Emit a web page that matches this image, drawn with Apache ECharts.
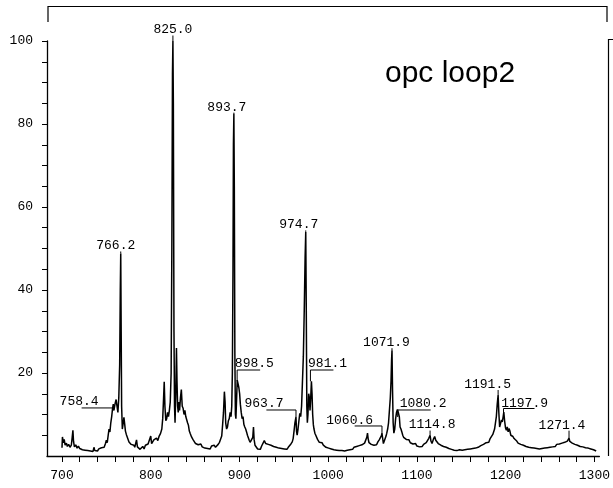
<!DOCTYPE html>
<html>
<head>
<meta charset="utf-8">
<script src="https://cdn.jsdelivr.net/npm/echarts@6/dist/echarts.min.js"></script>
<style>html,body{margin:0;padding:0;background:#fff}#c{width:613px;height:488px}</style>
</head>
<body>
<div id="c"></div>
<script>
// ---- spectrum values [m/z, relative intensity] ----
const seg700 = [[700,2.0],[700.5,4.6],[701.5,3.2],[702.5,4.0],[703.5,2.6],[705,3.1],[706,2.3],[707.5,2.8],[709,2.1],[710.5,2.6],[711.5,4.5],[712.3,6.2],[713,3.5],[714,2.2],[715.5,2.7],[717,1.9],[718.5,2.4],[720,1.8],[721.5,2.2],[723,1.5],[724.5,1.9],[726,1.4],[727.5,1.8],[729,1.3],[730.5,1.7],[732,1.2],[733.5,1.6],[735,1.1],[736,2.1],[737,1.3],[738.5,1.6],[740,1.2],[741.5,1.7],[743,1.5],[744.5,2.0],[746,2.4],[747.5,2.1],[749,3.0],[750,3.8],[751,3.2],[752,4.9],[753,6.5],[754,5.8],[755,8.0],[756,9.5],[757,11.5],[757.8,12.5],[758.4,11.0],[759,11.6],[760,12.8]];
const seg760 = [[761,13.6],[762,12.0],[763,10.5],[764,14.0],[765,22],[765.7,40],[766.2,48.8],[766.7,30],[767.2,12],[768,6.5],[769,8.0],[769.8,9.3],[770.5,8.0],[771.5,6.0],[772.5,5.2],[773.5,4.6],[774.5,4.4],[775.5,3.4],[776.5,3.6],[778,2.8],[779.5,2.4],[781,2.6],[782,2.1],[783,2.3],[784,3.9],[785,2.2],[786.5,2.0],[788,1.6],[789.5,1.9],[791,2.3],[792.5,1.7],[794,2.6],[795.5,2.2],[797,2.9],[798.5,2.6]];
const seg800 = [[800,4.8],[801,3.0],[802,3.4],[803.5,3.9],[805,3.5],[806.5,4.3],[808,3.7],[809.5,4.8],[811,5.4],[812.5,6.5],[813.5,9.0],[814.5,14],[815.2,17.9],[816,12],[817,8.5],[818,9.0],[819,10.5],[820,9.5],[821,11],[822,13],[823,20],[823.8,50],[824.5,92],[825,100],[825.5,85],[826.2,30],[826.8,12],[827.4,8],[828.2,15],[829,26],[829.6,18],[830.3,12],[831,10.5],[831.8,13],[832.5,11],[833.5,14],[834.5,16],[835.5,12],[836.5,11.5],[837.5,10],[838.5,11],[839.5,9.5],[840.5,9.8],[841.5,8.0],[842.5,7.4],[843.5,6.0],[844.5,5.4],[846,4.6],[847.5,4.0],[849,3.6],[850.5,3.0],[852,3.3],[853.5,2.7],[855,2.5],[856.5,2.9],[858,2.2],[859.5,2.5]];
const seg860 = [[861,1.9],[862.5,2.3],[864,1.8],[865.5,2.2],[867,1.7],[868.5,2.4],[870,2.0],[871.5,2.6],[873,2.1],[874.5,2.5],[876,2.8],[877.5,3.3],[879,3.7],[880,4.8],[881,7.5],[882,10.5],[883,15.5],[883.8,13],[884.5,8.0],[885.5,6.5],[886.5,7.0],[887.5,8.5],[888.5,9.0],[889.5,10.5],[890.5,9.5],[891.3,12],[892,20],[892.7,45],[893.2,75],[893.7,82.5],[894.2,65],[894.8,25],[895.4,10],[896,9.0],[896.8,14],[897.5,18.3],[898.5,18.0],[899.3,16.5],[900.2,15],[901,12.5],[902,10.5],[903,9.0],[904,9.5],[905,7.6],[906,7.0],[907,6.5],[908,5.8],[909,5.0],[910,4.4],[911,3.8],[912,3.3],[913,3.0],[914,3.4],[915,4.5],[915.8,7.0],[916.5,4.0],[917.5,2.6],[919,2.2]];
const seg920 = [[920.5,1.7],[922,2.1],[923.5,1.6],[925,2.4],[926.5,2.0],[928,3.7],[929.5,3.0],[931,3.4],[932.5,2.8],[934,3.2],[935.5,2.6],[937,3.0],[938.5,2.3],[940,2.7],[941.5,2.1],[943,2.5],[944.5,1.9],[946,2.3],[947.5,1.8],[949,2.2],[950.5,1.7],[952,2.0],[953.5,1.6],[955,2.1],[956.5,2.4],[958,2.9],[959.5,3.4],[960.5,4.2],[961.5,6.0],[962.5,8.0],[963.7,9.4],[964.3,6.0],[965,5.0],[966,6.5],[967,8.5],[968,10.3],[969,9.5],[970,12],[971,18],[972,24],[973,35],[974,48],[974.7,54],[975.3,35],[975.9,12],[976.5,8],[977.2,10],[978,15],[978.8,14],[979.5,11],[980.3,14],[981.1,18],[981.8,15],[982.5,10],[983.3,7.5],[984,6.5],[985,5.5],[986,5.0],[987,4.6],[988,4.0],[989,3.8]];
const seg990 = [[990,3.3],[991.5,3.0],[993,3.2],[994.5,2.6],[996,2.4],[997.5,2.1],[999,2.3],[1000.5,1.9],[1002,2.1],[1003.5,1.7],[1005,1.9],[1006.5,1.5],[1008,1.8],[1009.5,1.4],[1011,1.7],[1012.5,1.3],[1014,1.6],[1015.5,1.3],[1017,1.5],[1018.5,1.2],[1020,1.6],[1021.5,1.4],[1023,1.8],[1024.5,1.5],[1026,1.9],[1027.5,1.6],[1029,2.1],[1030.5,1.8],[1032,2.3],[1033.5,2.0],[1035,2.5],[1036.5,2.2],[1038,2.7],[1039.5,2.4],[1041,3.1],[1042.5,3.4],[1043.5,4.5],[1044.3,5.5],[1045,4.2],[1046,3.2],[1047,3.6],[1048.5,2.8],[1050,3.1],[1051.5,2.6],[1053,3.0],[1054.5,2.7],[1056,3.4],[1057.5,3.9],[1059,4.2],[1060,4.9],[1060.6,5.5],[1061.3,4.4],[1062.2,3.0],[1063.2,3.6],[1064.2,4.2],[1065.2,4.8],[1066,5.5]];
const seg1067 = [[1067,6.5],[1068,8.0],[1069,11],[1070,14],[1070.8,18],[1071.4,23],[1071.9,25.5],[1072.5,16],[1073.2,8],[1074,5.5],[1075,6.5],[1076,9.0],[1077,10.5],[1078,11.2],[1079,10.5],[1080.2,9.4],[1081,7.0],[1082,6.5],[1083,5.8],[1084,5.0],[1085,4.5],[1086.5,4.8],[1088,4.0],[1089.5,3.6],[1091,3.9],[1092.5,3.2],[1094,3.4],[1095.5,2.9],[1097,2.6],[1098.5,3.0],[1100,2.4],[1101.5,2.7],[1103,2.2],[1104.5,2.6],[1106,2.3],[1107.5,2.8],[1109,2.6],[1110.5,3.2],[1112,3.6],[1113.2,4.2],[1114.8,5.0],[1115.8,3.6],[1117,3.0],[1118.5,4.0],[1120,4.7],[1121.2,3.8],[1122.5,3.4],[1124,3.0],[1125.5,3.2],[1127,2.6],[1128.5,2.9],[1130,2.3],[1131.5,2.5],[1133,2.1],[1134.5,2.3],[1136,1.8],[1137.5,2.0],[1139,1.6]];
const seg1140 = [[1140.5,1.8],[1142,1.4],[1143.5,1.7],[1145,1.3],[1146.5,1.2],[1148,1.5],[1149.5,1.1],[1151,1.4],[1152.5,1.2],[1154,1.5],[1155.5,1.3],[1157,1.6],[1158.5,1.4],[1160,1.7],[1161.5,1.5],[1163,1.8],[1164.5,1.6],[1166,1.9],[1167.5,1.7],[1169,2.1],[1170.5,2.0],[1172,2.5],[1173.5,2.2],[1175,2.8],[1176.5,2.6],[1178,3.2],[1179.5,3.6],[1181,3.3],[1182.5,4.2],[1184,4.6],[1185.5,5.2],[1186.5,5.6],[1187.5,6.5],[1188.5,8.0],[1189.5,9.5],[1190.5,12.5],[1191.5,14.7],[1192.3,10.5],[1193.2,7.0],[1194.2,7.8],[1195.2,8.7],[1196.2,8.2],[1197.2,9.5],[1197.9,10.6],[1198.8,8.5],[1199.8,6.8],[1200.8,6.2],[1201.8,7.0],[1202.8,5.8],[1203.8,6.6],[1204.8,6.0],[1205.8,5.0],[1207,5.4],[1208.2,4.7],[1209.5,4.2],[1211,4.5],[1212.5,3.6],[1214,3.1],[1215.5,3.5],[1217,2.8],[1218.5,3.2]];
const seg1220 = [[1220,2.6],[1221.5,2.9],[1223,2.3],[1224.5,2.6],[1226,2.1],[1227.5,2.4],[1229,2.0],[1230.5,2.3],[1232,1.9],[1233.5,2.2],[1235,1.8],[1236.5,2.1],[1238,1.7],[1239.5,2.0],[1241,1.8],[1242.5,2.2],[1244,1.9],[1245.5,2.3],[1247,2.0],[1248.5,2.4],[1250,2.1],[1251.5,2.5],[1253,2.2],[1254.5,2.6],[1256,2.3],[1257.5,2.8],[1259,2.4],[1260.5,2.9],[1262,2.6],[1263.5,3.1],[1265,2.7],[1266.5,3.3],[1268,3.0],[1269.5,3.6],[1270.5,3.4],[1271.4,4.3],[1272.3,3.5],[1273.5,3.8],[1275,3.1],[1276.5,3.4],[1278,2.8],[1279.5,3.1],[1281,2.6],[1282.5,2.9],[1284,2.3],[1285.5,2.6],[1287,2.2],[1288.5,2.5],[1290,2.0],[1291.5,2.3],[1293,1.9],[1294.5,2.2],[1296,1.7],[1297.5,2.0],[1299,1.5],[1300.5,1.7],[1302,1.2]];

// ---- peak annotations ----
const peakMz    = [825.0, 893.7, 766.2, 974.7, 1071.9, 1191.5, 1114.8, 1271.4, 758.4, 963.7, 1060.6, 898.5, 981.1, 1080.2, 1197.9];
const peakValue = [100, 82.5, 48.8, 54, 25.5, 14.7, 5.0, 4.3, 11.0, 9.4, 5.5, 18, 18, 9.4, 10.6];
const peakText  = ['825.0','893.7','766.2','974.7','1071.9','1191.5','1114.8','1271.4','758.4','963.7','1060.6','898.5','981.1','1080.2','1197.9'];

// ---- axis ticks / labels ----
const xTickValues  = [700,720,740,760,780,800,820,840,860,880,900,920,940,960,980,1000,1020,1040,1060,1080,1100,1120,1140,1160,1180,1200,1220,1240,1260,1280,1300];
const xLabelValues = [700,800,900,1000,1100,1200,1300];
const yTickValues  = [5,10,15,20,25,30,35,40,45,50,55,60,65,70,75,80,85,90,95,100];
const yLabelValues = [20,40,60,80,100];
const titleText = 'opc loop2';

// ---- annotation layout (pixel offsets, style only) ----
const annLayout = [
  {k:'top', dx:0,    ty:-11},
  {k:'top', dx:-7,   ty:-6.5},
  {k:'top', dx:-5,   ty:-7.5},
  {k:'top', dx:-7,   ty:-7},
  {k:'top', dx:-5.5, ty:-7.5},
  {k:'top', dx:-10.5,ty:-10.5},
  {k:'top', dx:2,    ty:-10.2},
  {k:'top', dx:-7,   ty:-13},
  {k:'left', dx:-34.7, ty:-8.7, ux:-32.2, uy:-2.4},
  {k:'left', dx:-32,   ty:-13.7, ux:-29.6, uy:-7},
  {k:'left', dx:-32.3, ty:-12.5, ux:-27.3, uy:-7.2},
  {k:'right', dx:-3.3, ty:-18, uy:-11.3, vx:-1, uw:23},
  {k:'right', dx:-3.4, ty:-18, uy:-11.3, vx:-1, uw:23},
  {k:'right', dx:0.3,  ty:-13, uy:-7,    vx:-1.7, uw:33},
  {k:'right', dx:-2.6, ty:-8.7, uy:-3.5, vx:-0.3, uw:31}
];

const spectrum = [].concat(seg700, seg760, seg800, seg860, seg920, seg990, seg1067, seg1140, seg1220);
const annData = peakMz.map((m, i) => [m, peakValue[i], i]);

const MONO = '13px "Liberation Mono", "DejaVu Sans Mono", monospace';
const chart = echarts.init(document.getElementById('c'), null, {renderer: 'canvas'});

function renderAnn(params, api) {
  const i = api.value(2);
  const p = api.coord([api.value(0), api.value(1)]);
  const px = p[0], py = p[1];
  const L = annLayout[i];
  const ln = (x1, y1, x2, y2) => ({type:'line', shape:{x1, y1, x2, y2}, style:{stroke:'#000', lineWidth:1}});
  const children = [];
  if (L.k === 'top') {
    children.push({type:'text', style:{text: peakText[i], x: px + L.dx, y: py + L.ty, font: MONO, fill:'#000', align:'center', verticalAlign:'middle'}});
    const y1 = py + L.ty + 5.5;
    if (y1 < py) children.push(ln(px, y1, px, py));
  } else if (L.k === 'left') {
    children.push({type:'text', style:{text: peakText[i], x: px + L.dx, y: py + L.ty, font: MONO, fill:'#000', align:'center', verticalAlign:'middle'}});
    children.push(ln(px + L.ux, py + L.uy, px, py + L.uy));
    children.push(ln(px, py + L.uy, px, py));
  } else {
    children.push({type:'text', style:{text: peakText[i], x: px + L.dx, y: py + L.ty, font: MONO, fill:'#000', align:'left', verticalAlign:'middle'}});
    const vx = px + L.vx;
    children.push(ln(vx, py + L.uy, vx + L.uw, py + L.uy));
    children.push(ln(vx, py + L.uy, vx, py));
  }
  return {type:'group', children};
}

const axisColor = '#000';
chart.setOption({
  animation: false,
  backgroundColor: '#fff',
  title: {
    text: titleText, left: 385, top: 59, padding: 0,
    textStyle: {fontFamily: '"Liberation Sans", Arial, sans-serif', fontSize: 30, fontWeight: 'normal', color: '#000'}
  },
  grid: {left: 47, right: 13, top: 41, bottom: 32, containLabel: false},
  xAxis: {
    type: 'value', min: 683.1, max: 1305.6,
    axisLine: {show: true, onZero: false, lineStyle: {color: axisColor, width: 1.3}},
    axisTick: {show: true, length: 6, customValues: xTickValues, lineStyle: {color: axisColor, width: 1}},
    axisLabel: {customValues: xLabelValues, margin: 13, color: '#000', fontFamily: '"Liberation Mono", monospace', fontSize: 13, formatter: v => String(v)},
    splitLine: {show: false}
  },
  yAxis: {
    type: 'value', min: 0, max: 100,
    axisLine: {show: true, lineStyle: {color: axisColor, width: 1.3}},
    axisTick: {show: true, length: 5, customValues: yTickValues, lineStyle: {color: axisColor, width: 1}},
    axisLabel: {customValues: yLabelValues, margin: 14, color: '#000', fontFamily: '"Liberation Mono", monospace', fontSize: 13, formatter: v => String(v)},
    splitLine: {show: false}
  },
  graphic: [
    {type:'polyline', silent:true, shape:{points:[[48,22],[48,6.5],[607,6.5],[607,22]]}, style:{stroke:'#000', lineWidth:1.2, fill:null}},
    {type:'polyline', silent:true, shape:{points:[[608.5,456],[608.5,39.5],[613,39.5]]}, style:{stroke:'#000', lineWidth:1.2, fill:null}}
  ],
  series: [
    {
      type: 'line', data: spectrum, showSymbol: false, symbol: 'none',
      lineStyle: {color: '#000', width: 1.5}, clip: false, z: 3
    },
    {
      type: 'custom', data: annData, renderItem: renderAnn, clip: false, z: 4,
      encode: {x: 0, y: 1}
    }
  ]
});
</script>
</body>
</html>
